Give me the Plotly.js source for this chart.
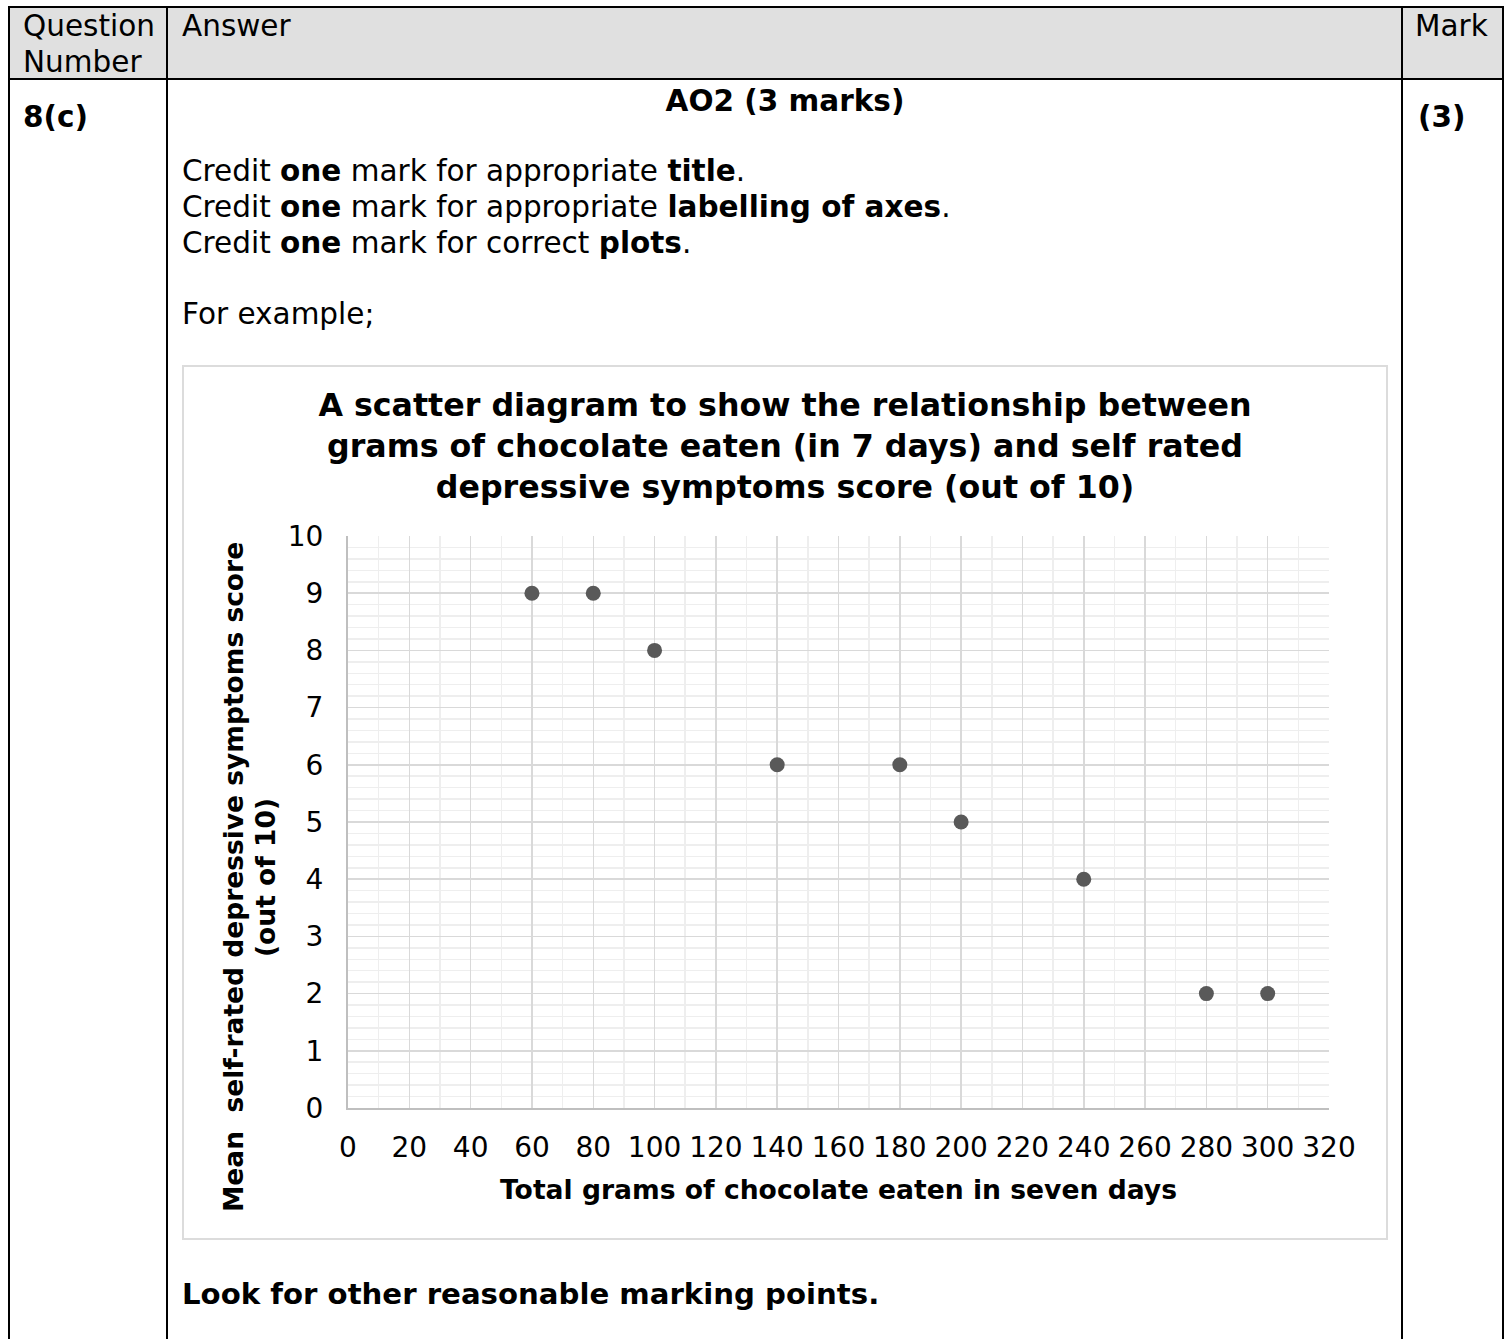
<!DOCTYPE html>
<html>
<head>
<meta charset="utf-8">
<script src="https://cdn.plot.ly/plotly-3.0.1.min.js"></script>
<style>
  html, body { margin: 0; padding: 0; background: #ffffff; }
  body { width: 1511px; height: 1339px; position: relative; overflow: hidden;
         font-family: "DejaVu Sans", Verdana, sans-serif; color: #000; }
  .ln { position: absolute; background: #000; }
  .t { position: absolute; font-size: 29.5px; line-height: 37px; white-space: nowrap; }
  .b { font-weight: bold; }
  #hdr { position: absolute; left: 10px; top: 8px; width: 1492px; height: 70px; background: #e0e0e0; }
  #chartbox { position: absolute; left: 182px; top: 365px; width: 1206px; height: 875px;
              border: 2px solid #dcdcdc; box-sizing: border-box; pointer-events: none; }
  #chart { position: absolute; left: 183px; top: 366px; width: 1204px; height: 872px; }
</style>
</head>
<body>
<div id="hdr"></div>
<!-- table rules -->
<div class="ln" style="left:8px; top:6px; width:1496px; height:2px;"></div>
<div class="ln" style="left:8px; top:78px; width:1496px; height:2px;"></div>
<div class="ln" style="left:8px; top:6px; width:2px; height:1340px;"></div>
<div class="ln" style="left:166px; top:6px; width:2px; height:1340px;"></div>
<div class="ln" style="left:1401px; top:6px; width:2px; height:1340px;"></div>
<div class="ln" style="left:1502px; top:6px; width:2px; height:1340px;"></div>

<div class="t" style="left:23px; top:8px;">Question</div>
<div class="t" style="left:23px; top:44px;">Number</div>
<div class="t" style="left:182px; top:8px;">Answer</div>
<div class="t" style="left:1415px; top:8px;">Mark</div>

<div class="t b" style="left:23px; top:99px;">8(c)</div>
<div class="t b" style="left:1418px; top:99px;">(3)</div>
<div class="t b" style="left:168px; width:1234px; text-align:center; top:83px;">AO2 (3 marks)</div>

<div class="t" style="left:182px; top:153px;">Credit <b>one</b> mark for appropriate <b>title</b>.</div>
<div class="t" style="left:182px; top:189px;">Credit <b>one</b> mark for appropriate <b>labelling of axes</b>.</div>
<div class="t" style="left:182px; top:225px;">Credit <b>one</b> mark for correct <b>plots</b>.</div>
<div class="t" style="left:182px; top:296px;">For example;</div>

<div id="chart"></div>
<div id="chartbox"></div>

<div class="t b" style="left:182px; top:1276px; font-size:29.2px;">Look for other reasonable marking points.</div>

<script>
// ---- data ----
const chocolateGrams = [60, 80, 100, 140, 180, 200, 240, 280, 300];
const depressionScore = [9, 9, 8, 6, 6, 5, 4, 2, 2];
const xTickValues = [0, 20, 40, 60, 80, 100, 120, 140, 160, 180, 200, 220, 240, 260, 280, 300, 320];
const yTickValues = [0, 1, 2, 3, 4, 5, 6, 7, 8, 9, 10];
const chartTitle = "A scatter diagram to show the relationship between<br>grams of chocolate eaten (in 7 days) and self rated<br>depressive symptoms score (out of 10)";
const xAxisTitle = "Total grams of chocolate eaten in seven days";
const yAxisTitleLine1 = "Mean\u00a0 self-rated depressive symptoms score";
const yAxisTitleLine2 = "(out of 10)";

const FONT = "DejaVu Sans, Verdana, sans-serif";

const trace = {
  type: "scatter",
  mode: "markers",
  x: chocolateGrams,
  y: depressionScore,
  marker: { color: "#595959", size: 15, line: { width: 0 } },
  hoverinfo: "skip"
};

const layout = {
  width: 1204,
  height: 872,
  margin: { l: 165, r: 58, t: 170, b: 130, pad: 0 },
  paper_bgcolor: "rgba(0,0,0,0)",
  plot_bgcolor: "#ffffff",
  showlegend: false,
  hovermode: false,
  font: { family: FONT, color: "#000000" },
  title: {
    text: chartTitle,
    font: { family: FONT, size: 31.7, weight: "bold", color: "#000000" },
    xref: "container", x: 0.5, xanchor: "center",
    yref: "container", y: 1 - (416 - 366) / 872, yanchor: "middle"
  },
  xaxis: {
    range: [0, 320],
    tickmode: "array",
    tickvals: xTickValues,
    ticktext: xTickValues.map(String),
    ticks: "",
    ticklabelstandoff: 13,
    tickfont: { family: FONT, size: 28, color: "#000000" },
    showgrid: true, gridcolor: "#d9d9d9", gridwidth: 1.5,
    minor: { dtick: 10, tick0: 0, showgrid: true, gridcolor: "#eeeeee", gridwidth: 1.5, ticks: "" },
    showline: true, linecolor: "#bfbfbf", linewidth: 2,
    zeroline: false, fixedrange: true,
    title: { text: xAxisTitle, font: { family: FONT, size: 26.6, weight: "bold", color: "#000000" }, standoff: 18 }
  },
  yaxis: {
    range: [0, 10],
    tickmode: "array",
    tickvals: yTickValues,
    ticktext: yTickValues.map(String),
    ticks: "",
    ticklabelstandoff: 17,
    tickfont: { family: FONT, size: 28, color: "#000000" },
    showgrid: true, gridcolor: "#d9d9d9", gridwidth: 1.5,
    minor: { dtick: 0.2, tick0: 0, showgrid: true, gridcolor: "#eeeeee", gridwidth: 1.5, ticks: "" },
    showline: true, linecolor: "#bfbfbf", linewidth: 2,
    zeroline: false, fixedrange: true
  },
  annotations: [
    {
      text: yAxisTitleLine1, textangle: -90,
      xref: "paper", yref: "paper", x: 0, y: (1108 - 877) / 572,
      xanchor: "center", yanchor: "middle", xshift: -115, showarrow: false,
      font: { family: FONT, size: 26.5, weight: "bold", color: "#000000" }
    },
    {
      text: yAxisTitleLine2, textangle: -90,
      xref: "paper", yref: "paper", x: 0, y: (1108 - 878) / 572,
      xanchor: "center", yanchor: "middle", xshift: -83, showarrow: false,
      font: { family: FONT, size: 26.5, weight: "bold", color: "#000000" }
    }
  ]
};

Plotly.newPlot("chart", [trace], layout, { displayModeBar: false, staticPlot: true });
</script>
</body>
</html>
